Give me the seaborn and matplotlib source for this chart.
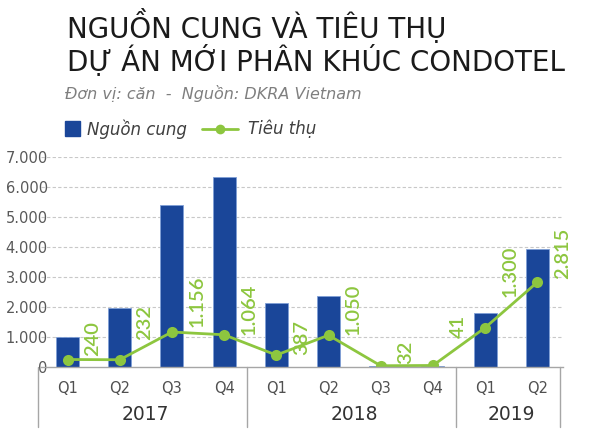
import matplotlib
matplotlib.use('Agg')
import matplotlib.pyplot as plt
from matplotlib.lines import Line2D
from matplotlib.patches import Rectangle
import seaborn as sns
import numpy as np
import pandas as pd

# data
quarters = ['Q1', 'Q2', 'Q3', 'Q4', 'Q1', 'Q2', 'Q3', 'Q4', 'Q1', 'Q2']
years = ['2017', '2018', '2019']
year_sizes = [4, 4, 2]
supply = [1000, 1960, 5400, 6330, 2130, 2370, 30, 30, 1800, 3910]
sales = [240, 232, 1156, 1064, 387, 1050, 32, 41, 1300, 2815]
sales_text = ['240', '232', '1.156', '1.064', '387', '1.050', '32', '41', '1.300', '2.815']
yticks = [0, 1000, 2000, 3000, 4000, 5000, 6000, 7000]
ytick_text = ['0', '1.000', '2.000', '3.000', '4.000', '5.000', '6.000', '7.000']

# label nudges (pixels) so the numbers dodge the line
label_dy = [4, 20, 5, 0, 0, 0, 2, 27, 31, 3]

blue = '#1a4699'
green = '#8dc63f'
grey = '#595959'

sns.set_theme(style='white')
plt.rcParams['font.family'] = ['DejaVu Sans']

df = pd.DataFrame({'pos': range(len(supply)), 'supply': supply, 'sales': sales})

fig = plt.figure(figsize=(6, 4.46), dpi=100)
ax = fig.add_axes([0.069, 0.1778, 0.870, 0.4709])

sns.barplot(data=df, x='pos', y='supply', color=blue, saturation=1, width=0.44,
            edgecolor='#7f9fd6', linewidth=0.6, ax=ax)
sns.lineplot(data=df, x='pos', y='sales', color=green, linewidth=2, marker='o',
             markersize=8, markeredgewidth=0, ax=ax)

ax.set_xlim(-0.5, len(supply) - 0.5)
ax.set_ylim(0, 7000)
ax.set_xlabel('')
ax.set_ylabel('')

for y in yticks[1:]:
    ax.axhline(y, color='#c8c8c8', lw=0.8, ls=(0, (3, 2)), zorder=0)

ax.set_yticks(yticks, ytick_text)
ax.tick_params(axis='y', length=0, pad=-4.5, labelsize=10.5, labelcolor=grey)
ax.set_xticks(range(len(quarters)), quarters)
ax.tick_params(axis='x', length=0, pad=10, labelsize=10.5, labelcolor='#505050')

for s in ['top', 'right', 'left']:
    ax.spines[s].set_visible(False)
ax.spines['bottom'].set_color('#a6a6a6')
ax.spines['bottom'].set_linewidth(1)

# value labels
for i, (v, t) in enumerate(zip(sales, sales_text)):
    ax.annotate(t, xy=(i, v), xytext=(25, label_dy[i]), textcoords='offset pixels',
                rotation=90, ha='center', va='bottom', color=green,
                fontsize=14.5, family='Lato', fontweight='semibold',
                annotation_clip=False)

# year groups under the quarters
trans = ax.get_xaxis_transform()
edges = np.concatenate([[0], np.cumsum(year_sizes)]) - 0.5
for e in edges:
    ax.add_line(Line2D([e - 0.067, e - 0.067], [0, -0.286], transform=trans,
                       color='#a6a6a6', lw=1, clip_on=False))
for k, yr in enumerate(years):
    c = (edges[k] + edges[k + 1]) / 2
    ax.annotate(yr, xy=(c, 0), xycoords=trans, xytext=(0, -48),
                textcoords='offset pixels', ha='center', va='center',
                fontsize=13.5, color='#333333')

# title block
fig.text(67 / 600, 1 - 38 / 446, 'NGUỒN CUNG VÀ TIÊU THỤ', fontsize=20,
         color='#1a1a1a', va='baseline')
fig.text(67 / 600, 1 - 71 / 446, 'DỰ ÁN MỚI PHÂN KHÚC CONDOTEL', fontsize=20,
         color='#1a1a1a', va='baseline')
fig.text(65 / 600, 1 - 99 / 446, 'Đơn vị: căn  -  Nguồn: DKRA Vietnam',
         fontsize=11.5, style='italic', color='#7f7f7f', va='baseline')

# legend drawn by hand
fig.add_artist(Rectangle((65 / 600, 1 - 136 / 446), 15 / 600, 15 / 446,
                         transform=fig.transFigure, color=blue))
fig.text(87 / 600, 1 - 129 / 446, 'Nguồn cung', fontsize=12, style='italic',
         color='#404040', va='center')
fig.add_artist(Line2D([202 / 600, 238 / 600], [1 - 129 / 446] * 2,
                      transform=fig.transFigure, color=green, lw=2))
fig.add_artist(Line2D([220 / 600], [1 - 129 / 446], transform=fig.transFigure,
                      color=green, marker='o', markersize=7, markeredgewidth=0))
fig.text(248 / 600, 1 - 129 / 446, 'Tiêu thụ', fontsize=12, style='italic',
         color='#404040', va='center')

fig.savefig('out.png', dpi=100, facecolor='white')
